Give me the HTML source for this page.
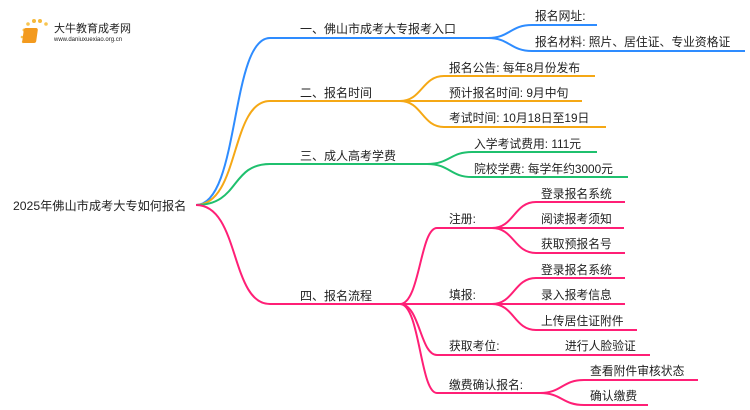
<!DOCTYPE html>
<html><head><meta charset="utf-8"><style>
html,body{margin:0;padding:0;background:#fff;width:750px;height:410px;overflow:hidden}
text{font-family:"Liberation Sans","Noto Sans CJK SC",sans-serif;fill:#222}
</style></head><body>
<svg width="750" height="410" viewBox="0 0 750 410" xmlns="http://www.w3.org/2000/svg">
<g>
<circle cx="24" cy="30" r="1.5" fill="#f8c550"/><circle cx="28" cy="24" r="1.8" fill="#f8c550"/><circle cx="34" cy="21" r="2" fill="#f6b93b"/><circle cx="40" cy="21" r="2" fill="#f6b93b"/><circle cx="46" cy="24" r="1.8" fill="#f8c550"/><circle cx="22" cy="37" r="1.3" fill="#f8c550"/><circle cx="23" cy="42" r="1.2" fill="#f8c550"/>
<rect x="28" y="28" width="14" height="15" rx="2" fill="#f39a1e" transform="skewX(-8)"/>
<text x="54" y="32" font-size="11" fill="#333">大牛教育成考网</text>
<text x="54" y="41" font-size="6" fill="#666">www.daniuxuexiao.org.cn</text>
</g>
<g fill="none" stroke-width="2">
<path d="M196,205 C240,205 230,38 270,38 L488,38" stroke="#2e8cff"/>
<path d="M488,38 C510,38 510,25 532,25 L597,25" stroke="#2e8cff"/>
<path d="M488,38 C510,38 510,51 532,51 L745,51" stroke="#2e8cff"/>
<path d="M196,205 C240,205 230,101 270,101 L400,101" stroke="#f5a815"/>
<path d="M400,101 C422,101 422,76 444,76 L595,76" stroke="#f5a815"/>
<path d="M400,101 L582,101" stroke="#f5a815"/>
<path d="M400,101 C422,101 422,127 444,127 L606,127" stroke="#f5a815"/>
<path d="M196,205 C240,205 230,164 270,164 L427,164" stroke="#1fc06e"/>
<path d="M427,164 C450,164 450,152 472,152 L597,152" stroke="#1fc06e"/>
<path d="M427,164 C450,164 450,177 472,177 L628,177" stroke="#1fc06e"/>
<g stroke="#ff1f76">
<path d="M196,205 C240,205 230,304 270,304 L400,304"/>
<path d="M400,304 C420,304 420,228 437,228 L492,228"/>
<path d="M400,304 L492,304"/>
<path d="M400,304 C420,304 420,355 437,355 L650,355"/>
<path d="M400,304 C420,304 420,393 437,393 L540,393"/>
<path d="M492,228 C514,228 514,202 536,202 L625,202"/>
<path d="M492,228 L624,228"/>
<path d="M492,228 C514,228 514,253 536,253 L625,253"/>
<path d="M492,304 C514,304 514,278 536,278 L625,278"/>
<path d="M492,304 L625,304"/>
<path d="M492,304 C514,304 514,330 536,330 L637,330"/>
<path d="M540,393 C562,393 562,380 584,380 L698,380"/>
<path d="M540,393 C562,393 562,405 584,405 L648,405"/>
</g>
</g>
<text x="13" y="210" font-size="12.2">2025年佛山市成考大专如何报名</text>
<g font-size="12">
<text x="300" y="33">一、佛山市成考大专报考入口</text>
<text x="300" y="97">二、报名时间</text>
<text x="300" y="160">三、成人高考学费</text>
<text x="300" y="300">四、报名流程</text>
</g>
<g font-size="11.8">
<text x="535" y="20">报名网址:</text>
<text x="535" y="46">报名材料: 照片、居住证、专业资格证</text>
<text x="449" y="72">报名公告: 每年8月份发布</text>
<text x="449" y="97">预计报名时间: 9月中旬</text>
<text x="449" y="122">考试时间: 10月18日至19日</text>
<text x="474" y="148">入学考试费用: 111元</text>
<text x="474" y="173">院校学费: 每学年约3000元</text>
<text x="449" y="223">注册:</text>
<text x="449" y="299">填报:</text>
<text x="449" y="350">获取考位:</text>
<text x="449" y="389">缴费确认报名:</text>
<text x="541" y="198">登录报名系统</text>
<text x="541" y="223">阅读报考须知</text>
<text x="541" y="248">获取预报名号</text>
<text x="541" y="274">登录报名系统</text>
<text x="541" y="299">录入报考信息</text>
<text x="541" y="325">上传居住证附件</text>
<text x="565" y="350">进行人脸验证</text>
<text x="590" y="375">查看附件审核状态</text>
<text x="590" y="400">确认缴费</text>
</g>
</svg>
</body></html>
